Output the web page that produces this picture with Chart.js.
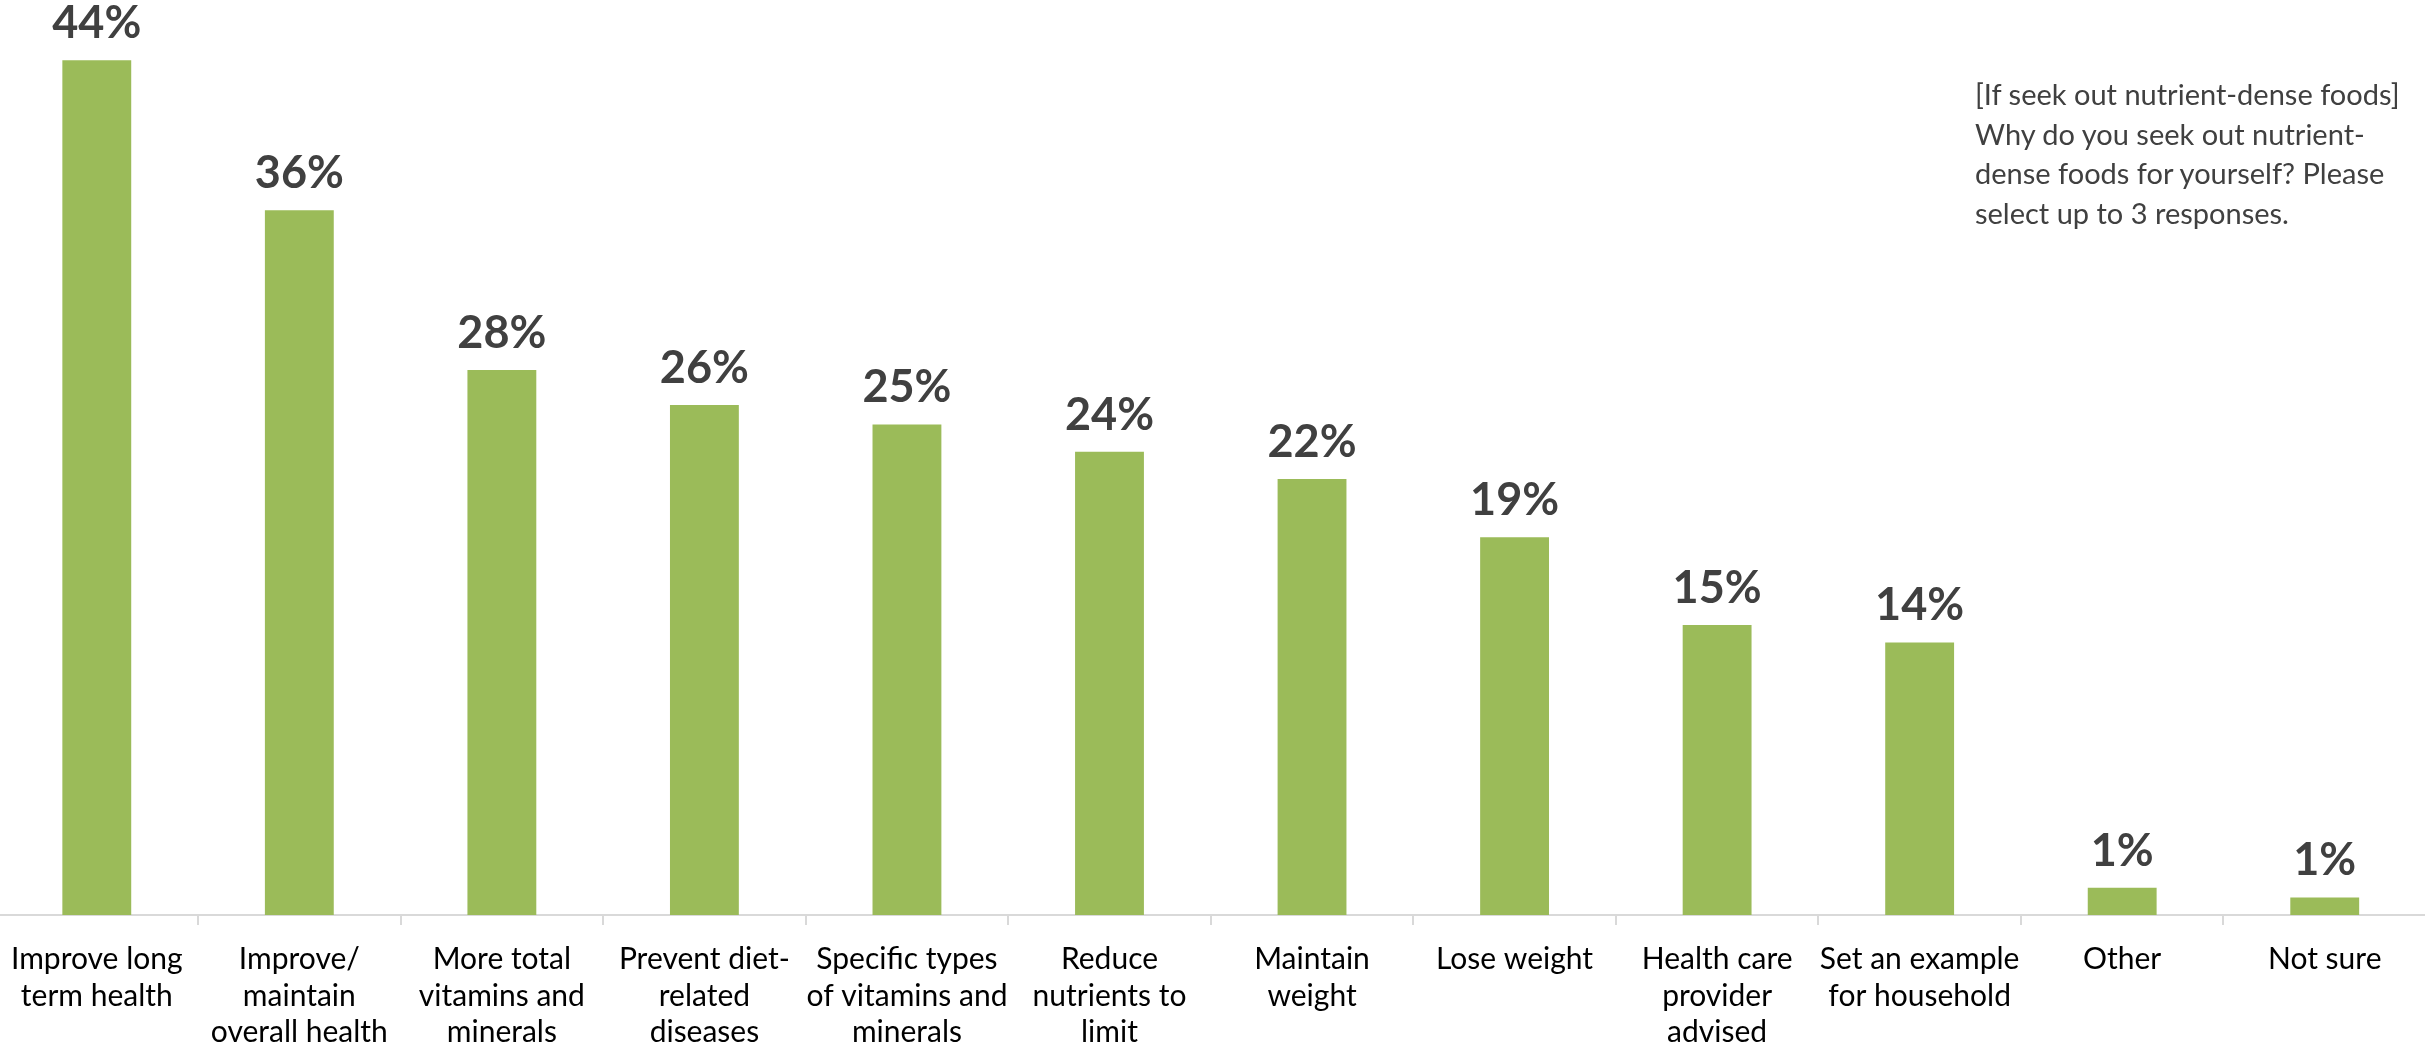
<!DOCTYPE html>
<html>
<head>
<meta charset="utf-8">
<title>Why seek out nutrient-dense foods</title>
<script src="https://cdn.jsdelivr.net/npm/chart.js@4/dist/chart.umd.min.js"></script>
<style>
    body { margin: 0; background: #fff; overflow: hidden; }
    #wrap { position: relative; width: 2425px; height: 1049px; overflow: hidden; }
    #reasonChart { position: absolute; left: -5px; top: 0; }
    #note {
        position: absolute;
        left: 1975px;
        top: 74px;
        font-family: Lato, sans-serif;
        font-size: 29px;
        line-height: 39.5px;
        color: #404040;
        white-space: nowrap;
    }
</style>
</head>
<body>
<div id="wrap">
    <canvas id="reasonChart" width="2431" height="1049"></canvas>
    <div id="note">[If seek out nutrient-dense foods]<br>Why do you seek out nutrient-<br>dense foods for yourself? Please<br>select up to 3 responses.</div>
</div>
<script>
// 응답 항목 (줄바꿈 포함)
const reasons = [
    ['Improve long', 'term health'],
    ['Improve/', 'maintain', 'overall health'],
    ['More total', 'vitamins and', 'minerals'],
    ['Prevent diet-', 'related', 'diseases'],
    ['Specific types', 'of vitamins and', 'minerals'],
    ['Reduce', 'nutrients to', 'limit'],
    ['Maintain', 'weight'],
    ['Lose weight'],
    ['Health care', 'provider', 'advised'],
    ['Set an example', 'for household'],
    ['Other'],
    ['Not sure']
];

// 응답 비율 (%), 라벨은 반올림해서 표시
const percents = [43.9, 36.2, 28.0, 26.2, 25.2, 23.8, 22.4, 19.4, 14.9, 14.0, 1.4, 0.9];

const barColor = '#9BBB59';
const axisColor = '#d9d9d9';

// 막대 위에 퍼센트 표시
const percentLabels = {
    id: 'percentLabels',
    afterDatasetsDraw(chart) {
        const ctx = chart.ctx;
        const meta = chart.getDatasetMeta(0);
        ctx.save();
        ctx.font = 'bold 45px Lato';
        ctx.fillStyle = '#404040';
        ctx.textAlign = 'center';
        ctx.textBaseline = 'alphabetic';
        meta.data.forEach((bar, i) => {
            ctx.fillText(Math.round(percents[i]) + '%', bar.x, bar.y - 22);
        });
        ctx.restore();
    }
};

const ctx = document.getElementById('reasonChart').getContext('2d');
const chart = new Chart(ctx, {
    type: 'bar',
    data: {
        labels: reasons,
        datasets: [{
            data: percents,
            backgroundColor: barColor,
            borderWidth: 0,
            barPercentage: 0.34,
            categoryPercentage: 1
        }]
    },
    options: {
        responsive: false,
        animation: false,
        layout: { padding: 0 },
        plugins: {
            legend: { display: false },
            tooltip: { enabled: false }
        },
        scales: {
            x: {
                afterFit: (scale) => { scale.height = 134; },
                border: { display: true, color: axisColor, width: 2 },
                grid: {
                    drawOnChartArea: false,
                    drawTicks: true,
                    tickLength: 10,
                    color: axisColor,
                    lineWidth: 2
                },
                ticks: {
                    color: '#000',
                    padding: 16,
                    maxRotation: 0,
                    autoSkip: false,
                    font: { family: 'Lato', size: 30, lineHeight: 1.22 }
                }
            },
            y: {
                display: false,
                min: 0,
                max: 47
            }
        }
    },
    plugins: [percentLabels]
});
</script>
</body>
</html>
